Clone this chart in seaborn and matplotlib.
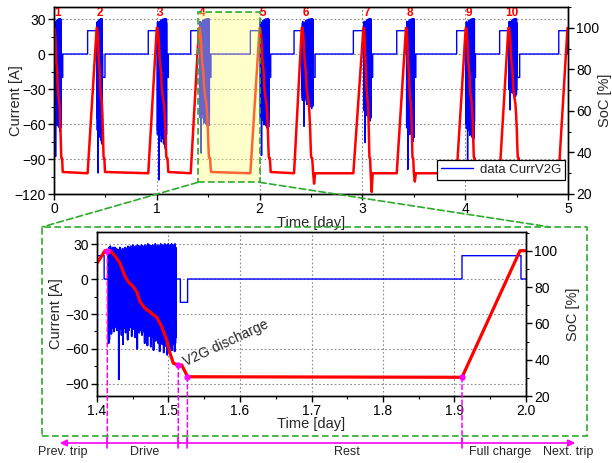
import numpy as np
import pandas as pd
import matplotlib
matplotlib.use("Agg")
import matplotlib.pyplot as plt
import seaborn as sns
from matplotlib.patches import Rectangle, ConnectionPatch, FancyArrowPatch
from matplotlib.lines import Line2D
from matplotlib.transforms import blended_transform_factory
from matplotlib.ticker import MultipleLocator, FormatStrFormatter

# ------------------------------------------------------------------ data
trip_labels = ["1", "2", "3", "4", "5", "6", "7", "8", "9", "10"]
trip_start = [0.0, 0.415, 1.0, 1.41, 2.0, 2.41, 3.01, 3.424, 4.005, 4.42]
drive_end = [0.068, 0.47, 1.095, 1.512, 2.09, 2.52, 3.085, 3.505, 4.09, 4.50]
trip_end = [0.085, 0.496, 1.112, 1.527, 2.108, 2.54, 3.10, 3.52, 4.10, 4.53]
charge_start = [0.327, 0.917, 1.33, 1.91, 2.335, 2.912, 3.334, 3.917, 4.335, 4.91]
charge_end = [0.415, 1.0, 1.41, 2.0, 2.41, 3.01, 3.424, 4.005, 4.42, 4.995]
current_min = [-88, -102, -108, -85, -87, -62, -76, -99, -100, -48]
soc_min = [30, 30, 30, 30, 30, 25, 21, 26, 30, 30]

# zoomed trip (day 1.4 - 2.0)
zoom_soc_t = [1.400, 1.4112, 1.4182, 1.4252, 1.4322, 1.4392, 1.4438, 1.4508,
              1.4555, 1.4601, 1.4671, 1.4765, 1.4835, 1.4905, 1.4975, 1.5021,
              1.5068, 1.5137, 1.5184, 1.5268, 1.9105, 1.9916, 2.000]
zoom_soc = [93.1, 100.0, 100.0, 97.1, 93.1, 85.7, 82.9, 80.2,
            77.4, 71.9, 68.3, 65.5, 63.3, 58.2, 50.8, 43.5,
            38.0, 37.1, 37.1, 30.6, 30.3, 100.0, 100.0]
zoom_charge_end = 1.41
zoom_drive_start = 1.4158
zoom_drive_end = 1.5105
zoom_v2g_start = 1.5166
zoom_v2g_end = 1.5267
zoom_charge_start = 1.9105
zoom_charge_stop = 1.993
charge_current = 20
v2g_current = -20

noise_peaks = [22, 27, 25, 28, 24, 26, 21, 27, 25, 23,
               27, 20, 26, 24, 17, 25, 22, 27, 19, 24,
               21, 26, 18, 25, 23, 27, 22, 26, 20, 28,
               25, 27, 23, 28, 26, 24, 29, 25, 27, 22,
               28, 26, 24, 29, 27, 25, 28, 23, 27, 29,
               26, 28, 24, 27, 29, 25, 28, 26, 30, 24,
               27, 29, 25, 28, 26, 29, 27, 24, 28, 30,
               26, 28, 25, 29, 27, 28, 24, 30, 26, 28,
               29, 25, 27, 30, 28, 26, 29, 27, 30, 25,
               28, 29, 26, 30, 27, 28, 29, 26, 30, 27]
noise_troughs = [-55, -52, -44, -38, -47, -35, -42, -39, -45, -36,
                 -41, -34, -44, -38, -40, -86, -37, -43, -35, -48,
                 -39, -56, -36, -42, -38, -46, -40, -35, -52, -39,
                 -44, -37, -41, -36, -49, -38, -43, -40, -37, -50,
                 -42, -39, -60, -41, -38, -46, -40, -44, -37, -48,
                 -41, -45, -39, -55, -42, -47, -40, -57, -44, -49,
                 -42, -46, -58, -43, -50, -45, -61, -44, -48, -53,
                 -46, -51, -45, -55, -48, -62, -47, -52, -49, -56,
                 -48, -63, -50, -54, -47, -58, -65, -51, -55, -49,
                 -60, -52, -57, -61, -50, -56, -53, -62, -55, -50]

event_t = [1.4144, 1.5137, 1.5264, 1.9105]
event_soc = [100.0, 37.1, 30.6, 30.3]
phase_labels = ["Prev. trip", "Drive", "Rest", "Full charge", "Next. trip"]
phase_px = [63, 145, 347, 500, 568]

# ------------------------------------------------------------------ series building
def noise(t0, t1, scale=1.0):
    n = len(noise_peaks)
    ts = list(np.linspace(t0, t1, 2 * n))
    vals = []
    for p, q in zip(noise_peaks, noise_troughs):
        vals += [p, q * scale]
    return ts, vals

# top current
top_t, top_i = [0.0], [0.0]
for k in range(len(trip_start)):
    ns = trip_start[k] + 0.006
    top_t.append(ns); top_i.append(0)
    scale = current_min[k] / min(noise_troughs)
    nt, nv = noise(ns, drive_end[k], scale)
    top_t += nt; top_i += nv
    de = drive_end[k]
    top_t += [de, de + 0.004, de + 0.004, trip_end[k], trip_end[k],
              charge_start[k], charge_start[k], charge_end[k], charge_end[k]]
    top_i += [0, 0, v2g_current, v2g_current, 0,
              0, charge_current, charge_current, 0]
top_t.append(5.0); top_i.append(0)

# top SoC
shape_t = zoom_soc_t[1:20]
shape_v = zoom_soc[1:20]
u0, u1 = shape_t[0], shape_t[-1]
top_st, top_sv = [], []
for k in range(len(trip_start)):
    ts, te = trip_start[k], trip_end[k]
    end_map = te if soc_min[k] >= 30 else te - 0.02
    for t, v in zip(shape_t, shape_v):
        top_st.append(ts + (t - u0) / (u1 - u0) * (end_map - ts))
        top_sv.append(v)
    if soc_min[k] < 30:
        top_st += [te - 0.01, te]
        top_sv += [soc_min[k], 30]
    top_st += [charge_start[k], charge_end[k]]
    top_sv += [30, 100]
top_st.append(5.0); top_sv.append(100)

# zoom current: steps and drive noise
z_t = [1.4, zoom_charge_end, zoom_charge_end, zoom_drive_start]
z_i = [charge_current, charge_current, 0, 0]
zn_t, zn_i = noise(zoom_drive_start, zoom_drive_end)
z_t += zn_t; z_i += zn_i
z_t += [zoom_drive_end, zoom_v2g_start, zoom_v2g_start, zoom_v2g_end, zoom_v2g_end,
        zoom_charge_start, zoom_charge_start, zoom_charge_stop, zoom_charge_stop, 2.0]
z_i += [0, 0, v2g_current, v2g_current, 0, 0, charge_current, charge_current, 0, 0]

# ------------------------------------------------------------------ style
sns.set_theme(style="ticks", rc={"axes.edgecolor": "black", "axes.linewidth": 1.0,
                                 "xtick.color": "black", "ytick.color": "black"})
plt.rcParams["font.family"] = ["Liberation Sans", "DejaVu Sans"]

W, H = 612, 463
fig = plt.figure(figsize=(W / 100, H / 100), dpi=100)

def fx(px):
    return px / W

def fy(py):
    return 1 - py / H

BLUE = "#0000ff"
RED = "#ff0000"
MAG = "#ff00ff"
GREEN = "#2eaa2e"
GRID = dict(color="#8c8c8c", linestyle=(0, (1.5, 2.0)), linewidth=0.8)

def style_axes(ax, axr):
    for a in (ax, axr):
        a.tick_params(which="major", direction="out", length=4, width=1, labelsize=10, pad=2)
        a.tick_params(which="minor", direction="out", length=2.5, width=0.8)
    ax.tick_params(axis="x", which="both", top=False)
    ax.grid(True, which="major", **GRID)
    ax.set_axisbelow(True)

# ------------------------------------------------------------------ top panel
ax1 = fig.add_axes([fx(54), fy(194), fx(568) - fx(54), fy(7) - fy(194)])
sns.lineplot(x=top_t, y=top_i, ax=ax1, estimator=None, sort=False, color=BLUE,
             linewidth=1.0, label="data CurrV2G")
if ax1.get_legend() is not None:
    ax1.get_legend().remove()
ax1.set_xlim(0, 5)
ax1.set_ylim(-120, 40.3)
ax1.xaxis.set_major_locator(MultipleLocator(1))
ax1.xaxis.set_minor_locator(MultipleLocator(0.5))
ax1.yaxis.set_major_locator(MultipleLocator(30))
ax1.yaxis.set_minor_locator(MultipleLocator(15))
ax1.set_xlabel("Time [day]", fontsize=10.5, labelpad=-0.5)
ax1.set_ylabel("Current [A]", fontsize=10.5)
ax1.yaxis.set_label_coords((23 - 54) / 514, 0.5)

ax1b = ax1.twinx()
sns.lineplot(x=top_st, y=top_sv, ax=ax1b, estimator=None, sort=False, color=RED,
             linewidth=1.8)
ax1b.set_ylim(20, 110.1)
ax1b.yaxis.set_major_locator(MultipleLocator(20))
ax1b.yaxis.set_minor_locator(MultipleLocator(10))
ax1b.set_ylabel("SoC [%]", fontsize=10.5)
ax1b.yaxis.set_label_coords((598 - 54) / 514, 0.5)
style_axes(ax1, ax1b)

for k, lab in enumerate(trip_labels):
    ax1.text(trip_start[k] + 0.035, 35.2, lab, color=RED, fontsize=8.5,
             fontweight="bold", ha="center", va="center")

# highlighted zoom window on top panel
ax1b.add_patch(Rectangle((1.4, -110), 0.6, 146, transform=ax1.transData,
                         facecolor="#ffff80", alpha=0.4, edgecolor="none", zorder=6))
ax1b.add_patch(Rectangle((1.4, -110), 0.6, 146, transform=ax1.transData, fill=False,
                         edgecolor=GREEN, linestyle=(0, (4, 2)), linewidth=1.2,
                         zorder=7, clip_on=False))

h, l = ax1.get_legend_handles_labels()
leg = ax1b.legend(h, l, loc="lower right", bbox_to_anchor=(0.994, 0.075),
                  borderaxespad=0, fontsize=9.5, frameon=True, fancybox=False,
                  edgecolor="black", framealpha=1, handlelength=2.4,
                  borderpad=0.3, handletextpad=0.5)
leg.get_frame().set_linewidth(0.9)
leg.set_zorder(20)

# ------------------------------------------------------------------ bottom panel
ax2 = fig.add_axes([fx(97), fy(396), fx(526) - fx(97), fy(232) - fy(396)])
sns.lineplot(x=z_t, y=z_i, ax=ax2, estimator=None, sort=False, color=BLUE, linewidth=1.0)
sns.lineplot(x=zn_t, y=zn_i, ax=ax2, estimator=None, sort=False, color=BLUE, linewidth=1.3)
ax2.set_xlim(1.4, 2.0)
ax2.set_ylim(-100.3, 40.3)
ax2.xaxis.set_major_locator(MultipleLocator(0.1))
ax2.xaxis.set_minor_locator(MultipleLocator(0.05))
ax2.yaxis.set_major_locator(MultipleLocator(30))
ax2.yaxis.set_minor_locator(MultipleLocator(15))
ax2.set_xlabel("Time [day]", fontsize=10.5, labelpad=-1)
ax2.set_ylabel("Current [A]", fontsize=10.5)
ax2.yaxis.set_label_coords((63 - 97) / 429, 0.5)

ax2b = ax2.twinx()
sns.lineplot(x=zoom_soc_t, y=zoom_soc, ax=ax2b, estimator=None, sort=False,
             color=RED, linewidth=2.3)
ax2b.set_ylim(20, 110.3)
ax2b.yaxis.set_major_locator(MultipleLocator(20))
ax2b.yaxis.set_minor_locator(MultipleLocator(10))
ax2b.set_ylabel("SoC [%]", fontsize=10.5)
ax2b.yaxis.set_label_coords((566 - 97) / 429, 0.5)
style_axes(ax2, ax2b)
ax2.xaxis.set_major_formatter(FormatStrFormatter("%.1f"))

ax2.text(1.5245, -74.5, "V2G discharge", fontsize=10, rotation=25,
         rotation_mode="anchor", ha="left", va="baseline")

# magenta event markers
btrans = blended_transform_factory(ax2.transData, fig.transFigure)
for t, s in zip(event_t, event_soc):
    cp = ConnectionPatch(xyA=(t, s), coordsA=ax2b.transData, xyB=(t, fy(443)),
                         coordsB=btrans, color=MAG, linestyle=(0, (3, 2)), linewidth=1.1)
    fig.add_artist(cp)
    fig.add_artist(Line2D([t, t], [fy(438), fy(448)], transform=btrans, color=MAG,
                          linewidth=1.2))
ax2b.plot(event_t, event_soc, "o", color=MAG, markersize=3.5, zorder=10)

fig.add_artist(FancyArrowPatch((fx(57), fy(443)), (fx(578), fy(443)),
                               transform=fig.transFigure, arrowstyle="<|-|>",
                               mutation_scale=10, color=MAG, linewidth=1.2))
for lab, px in zip(phase_labels, phase_px):
    fig.text(fx(px), fy(452), lab, fontsize=9, ha="center", va="center")

# green zoom frame and connectors
fig.add_artist(Rectangle((fx(42), fy(436)), fx(587) - fx(42), fy(227) - fy(436),
                         transform=fig.transFigure, fill=False, edgecolor=GREEN,
                         linestyle=(0, (4, 2)), linewidth=1.2))
for xa, xb in ((1.4, 42), (2.0, 550)):
    fig.add_artist(ConnectionPatch(xyA=(xa, -110), coordsA=ax1.transData,
                                   xyB=(fx(xb), fy(227)), coordsB=fig.transFigure,
                                   color=GREEN, linestyle=(0, (4, 2)), linewidth=1.2))

fig.savefig("out.png", dpi=100)
